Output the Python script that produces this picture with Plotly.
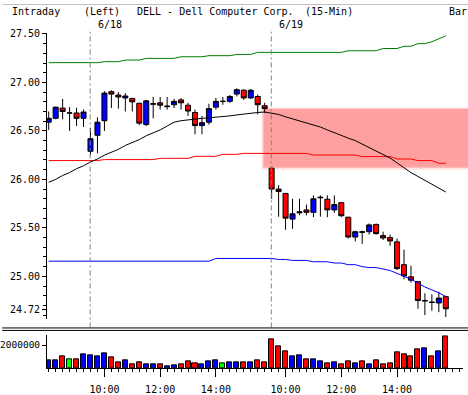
import plotly.graph_objects as go

# ---------------- data ----------------
SESSIONS = [("6/17", 20, 26), ("6/18", 0, 26), ("6/19", 0, 26)]  # (day, first slot, last slot+1) of 15-min slots from 9:30
TIMES = []
for day, s0, s1 in SESSIONS:
    for k in range(s0, s1):
        mins = 9 * 60 + 30 + 15 * k
        TIMES.append(f"{day} {mins // 60:02d}:{mins % 60:02d}")

OPEN = [26.59, 26.63, 26.735, 26.685, 26.685, 26.63, 26.29, 26.455, 26.605, 26.905,
        26.87, 26.84, 26.835, 26.785, 26.565, 26.775, 26.79, 26.75, 26.77, 26.82,
        26.765, 26.69, 26.555, 26.59, 26.745, 26.805, 26.805, 26.88, 26.92, 26.84,
        26.855, 26.76, 26.115, 25.90, 25.855, 25.59, 25.655, 25.685, 25.66, 25.81,
        25.795, 25.685, 25.76, 25.61, 25.405, 25.46, 25.46, 25.535, 25.42, 25.40,
        25.355, 25.12, 24.995, 24.945, 24.745, 24.735, 24.725, 24.79]
HIGH = [26.70, 26.75, 26.83, 26.745, 26.74, 26.72, 26.53, 26.64, 26.91, 26.92,
        26.90, 26.89, 26.84, 26.79, 26.82, 26.85, 26.85, 26.85, 26.83, 26.84,
        26.79, 26.72, 26.655, 26.78, 26.84, 26.85, 26.87, 26.94, 26.93, 26.93,
        26.875, 26.79, 26.13, 25.94, 25.86, 25.80, 25.80, 25.74, 25.835, 25.835,
        25.835, 25.835, 25.76, 25.61, 25.47, 25.47, 25.545, 25.545, 25.46, 25.43,
        25.39, 25.275, 25.11, 24.95, 24.825, 24.815, 24.84, 24.80]
LOW = [26.51, 26.62, 26.62, 26.50, 26.55, 26.54, 26.25, 26.27, 26.50, 26.735,
       26.73, 26.70, 26.70, 26.56, 26.55, 26.63, 26.72, 26.72, 26.735, 26.72,
       26.655, 26.465, 26.465, 26.565, 26.72, 26.77, 26.79, 26.855, 26.82, 26.83,
       26.67, 26.685, 25.80, 25.615, 25.48, 25.49, 25.63, 25.63, 25.61, 25.615,
       25.61, 25.655, 25.61, 25.39, 25.36, 25.335, 25.43, 25.43, 25.375, 25.315,
       25.065, 24.97, 24.935, 24.665, 24.60, 24.645, 24.63, 24.58]
CLOSE = [26.63, 26.745, 26.70, 26.685, 26.63, 26.695, 26.42, 26.59, 26.89, 26.88,
         26.85, 26.86, 26.80, 26.58, 26.81, 26.78, 26.765, 26.755, 26.805, 26.79,
         26.705, 26.555, 26.585, 26.73, 26.805, 26.805, 26.855, 26.925, 26.84, 26.92,
         26.77, 26.73, 25.90, 25.875, 25.60, 25.645, 25.665, 25.66, 25.80, 25.815,
         25.685, 25.74, 25.625, 25.405, 25.46, 25.455, 25.53, 25.44, 25.395, 25.365,
         25.08, 25.005, 24.96, 24.75, 24.75, 24.73, 24.775, 24.665]
VOLUME = [710000, 630000, 1060000, 770000, 770000, 1230000, 1140000, 1060000, 1310000, 940000,
          510000, 690000, 340000, 510000, 340000, 340000, 340000, 170000, 260000, 340000,
          600000, 430000, 340000, 600000, 690000, 430000, 510000, 510000, 510000, 510000,
          690000, 510000, 2490000, 1890000, 1460000, 1060000, 1140000, 770000, 770000, 600000,
          430000, 510000, 340000, 600000, 430000, 600000, 340000, 690000, 340000, 430000,
          1370000, 1200000, 1060000, 1630000, 1710000, 1060000, 1460000, 2740000]
TREND = [25.97, 26.00, 26.04, 26.07, 26.11, 26.14, 26.18, 26.21, 26.25, 26.28,
         26.31, 26.35, 26.38, 26.41, 26.45, 26.48, 26.51, 26.55, 26.59, 26.605,
         26.615, 26.62, 26.63, 26.635, 26.64, 26.65, 26.655, 26.665, 26.675, 26.68,
         26.69, 26.695, 26.685, 26.67, 26.645, 26.625, 26.605, 26.58, 26.56, 26.54,
         26.51, 26.48, 26.455, 26.425, 26.40, 26.365, 26.33, 26.295, 26.26, 26.22,
         26.17, 26.12, 26.07, 26.03, 25.99, 25.95, 25.91, 25.87]
UPPER = [27.204] * 8 + [27.214] * 3 + [27.231] * 3 + [27.248] * 5 + [27.265] * 4 + \
        [27.276] * 4 + [27.289] * 3 + [27.31] * 13 + [27.327] * 5 + [27.35] * 3 + \
        [27.373] * 2 + [27.40] * 2 + [27.42, 27.45, 27.48]
MIDDLE = [26.194] * 8 + [26.204] * 8 + [26.217] * 5 + [26.238] * 4 + [26.258] * 3 + \
         [26.268] * 10 + [26.251] * 7 + [26.235] * 5 + [26.21] * 3 + [26.194] * 3 + \
         [26.166] * 2
LOWER = [25.156] * 24 + [25.184] * 9 + [25.174] * 2 + [25.164] * 3 + [25.15] * 3 + \
        [25.137] * 2 + [25.12] * 2 + [25.10, 25.09, 25.09, 25.075, 25.06, 25.03, 25.00,
                                     24.97, 24.93, 24.89, 24.86, 24.83, 24.79]

PRICE_TICK_VALUES = [24.66, 25.0, 25.5, 26.0, 26.5, 27.0, 27.5]
PRICE_TICK_LABELS = ["24.72", "25.00", "25.50", "26.00", "26.50", "27.00", "27.50"]
VOL_TICK_VALUES = [2000000]
VOL_TICK_LABELS = ["2000000"]
TIME_TICK_LABELS = ["10:00", "12:00", "14:00"]
DAY_LABELS = ["6/18", "6/19"]
FORECAST_ZONE = (26.13, 26.725)  # price band of the shaded projection box

# ---------------- layout helpers ----------------
X = list(range(len(TIMES)))
W, H = 468, 395
ML, MB = 45, 27
PLOT_W, PLOT_H = W - ML, H - MB
PX_PER_BAR = 7.0
XMIN = -1.7 / PX_PER_BAR
XMAX = XMIN + PLOT_W / PX_PER_BAR


def py(ypx):  # pixel row -> paper fraction
    return (PLOT_H - ypx) / PLOT_H


def px(xpx):  # pixel column -> paper fraction
    return (xpx - ML) / PLOT_W


PRICE_TOP_PX, PRICE_BOT_PX = 29, 318
PRICE_AT_30 = 27.5
PX_PER_UNIT = 98.0
p_top = PRICE_AT_30 - (PRICE_TOP_PX - 30.3) / PX_PER_UNIT
p_bot = PRICE_AT_30 - (PRICE_BOT_PX - 30.3) / PX_PER_UNIT

day_start = [TIMES.index(f"{d} 09:30") for d in DAY_LABELS]
xtick_vals, xtick_text = [], []
for d in DAY_LABELS:
    for t in TIME_TICK_LABELS:
        xtick_vals.append(TIMES.index(f"{d} {t}"))
        xtick_text.append(t)

vol_colors = ["#0000ff" if c > o else ("#ff0000" if c < o else "#00ff00")
              for o, c in zip(OPEN, CLOSE)]

FONT = "DejaVu Sans Mono"

fig = go.Figure()

fig.add_trace(go.Scatter(x=X, y=UPPER, mode="lines", line=dict(color="#008000", width=1),
                         xaxis="x", yaxis="y", hoverinfo="skip"))
fig.add_trace(go.Scatter(x=X, y=MIDDLE, mode="lines", line=dict(color="#ff0000", width=1),
                         xaxis="x", yaxis="y", hoverinfo="skip"))
fig.add_trace(go.Scatter(x=X, y=LOWER, mode="lines", line=dict(color="#0000ff", width=1),
                         xaxis="x", yaxis="y", hoverinfo="skip"))
fig.add_trace(go.Scatter(x=X, y=TREND, mode="lines", line=dict(color="#000000", width=1),
                         xaxis="x", yaxis="y", hoverinfo="skip"))
fig.add_trace(go.Candlestick(
    x=X, open=OPEN, high=HIGH, low=LOW, close=CLOSE,
    increasing=dict(fillcolor="#0000ff", line=dict(color="#000000", width=1)),
    decreasing=dict(fillcolor="#ff0000", line=dict(color="#000000", width=1)),
    whiskerwidth=0, xaxis="x", yaxis="y"))
fig.add_trace(go.Bar(x=X, y=VOLUME, marker=dict(color=vol_colors, line=dict(color="#000000", width=1)),
                     width=0.72, xaxis="x2", yaxis="y2"))

shapes = []
# soft-edged projection box
shapes.append(dict(type="rect", xref="x", yref="y", x0=30.55, x1=XMAX + 1,
                   y0=FORECAST_ZONE[0] - 0.03, y1=FORECAST_ZONE[1] + 0.015,
                   fillcolor="rgba(255,120,120,0.22)", line=dict(width=0), layer="below"))
shapes.append(dict(type="rect", xref="x", yref="y", x0=30.75, x1=XMAX + 1,
                   y0=FORECAST_ZONE[0] - 0.012, y1=FORECAST_ZONE[1] + 0.005,
                   fillcolor="rgba(255,110,110,0.35)", line=dict(width=0), layer="below"))
shapes.append(dict(type="rect", xref="x", yref="y", x0=30.9, x1=XMAX + 1,
                   y0=FORECAST_ZONE[0], y1=FORECAST_ZONE[1],
                   fillcolor="rgb(255,160,160)", line=dict(width=0), layer="below"))
for ds in day_start:
    shapes.append(dict(type="line", xref="x", yref="paper", x0=ds - 0.05, x1=ds - 0.05,
                       y0=py(327), y1=py(28), line=dict(color="#808080", width=1, dash="5px,3px,2px,3px")))
for yy in (327.5, 330.0):
    shapes.append(dict(type="line", xref="paper", yref="paper", x0=px(0), x1=px(W),
                       y0=py(yy), y1=py(yy), line=dict(color="#000000", width=1)))
shapes.append(dict(type="line", xref="paper", yref="paper", x0=px(0), x1=px(W),
                   y0=py(0.5), y1=py(0.5), line=dict(color="#c0c0c0", width=1)))

ann = []
tfont = dict(family=FONT, size=10, color="#000000")
for txt, x0 in [("Intraday", 8), ("(Left)", 80), ("DELL - Dell Computer Corp.", 133),
                ("(15-Min)", 302), ("Bar", 447)]:
    ann.append(dict(text=txt, xref="paper", yref="paper", x=px(x0), y=py(7.5),
                    xanchor="left", yanchor="middle", showarrow=False, font=tfont))
for d, ds in zip(DAY_LABELS, day_start):
    ann.append(dict(text=d, xref="x", yref="paper", x=ds + 0.8, y=py(20.5),
                    xanchor="left", yanchor="middle", showarrow=False, font=tfont))

fig.update_layout(
    width=W, height=H, margin=dict(l=ML, r=0, t=0, b=MB),
    paper_bgcolor="#ffffff", plot_bgcolor="#ffffff", showlegend=False,
    boxgap=0.15, boxgroupgap=0.15, bargap=0,
    shapes=shapes, annotations=ann,
    xaxis=dict(domain=[0, 1], range=[XMIN, XMAX], anchor="y", showticklabels=False,
               showline=False, ticks="", showgrid=False, zeroline=False,
               rangeslider=dict(visible=False), fixedrange=True),
    yaxis=dict(domain=[py(PRICE_BOT_PX), py(PRICE_TOP_PX)], range=[p_bot, p_top], anchor="x",
               tickmode="array", tickvals=PRICE_TICK_VALUES, ticktext=PRICE_TICK_LABELS,
               ticks="outside", ticklen=4, tickcolor="#000000", tickwidth=1,
               minor=dict(dtick=0.1, tick0=0, ticks="outside", ticklen=3, tickcolor="#000000"),
               showline=True, linecolor="#000000", linewidth=1, showgrid=False, zeroline=False,
               tickfont=dict(family=FONT, size=10, color="#000000")),
    xaxis2=dict(domain=[0, (PLOT_W - 5) / PLOT_W], range=[XMIN, XMIN + (PLOT_W - 5) / PX_PER_BAR],
                anchor="y2", tickmode="array", tickvals=xtick_vals, ticktext=xtick_text,
                ticks="outside", ticklen=8, tickcolor="#000000", ticklabelstandoff=4,
                minor=dict(dtick=1, tick0=0, ticks="outside", ticklen=3, tickcolor="#000000"),
                showline=True, linecolor="#000000", linewidth=1, showgrid=False, zeroline=False,
                tickfont=dict(family=FONT, size=10, color="#000000")),
    yaxis2=dict(domain=[0, py(335)], range=[0, (368.3 - 335) / 23.3 * 2000000], anchor="x2",
                tickmode="array", tickvals=VOL_TICK_VALUES, ticktext=VOL_TICK_LABELS,
                ticks="outside", ticklen=4, tickcolor="#000000",
                showline=True, linecolor="#000000", linewidth=1, showgrid=False, zeroline=False,
                tickfont=dict(family=FONT, size=9.5, color="#000000")),
)

fig.write_html("out.html", config={"displayModeBar": False})
with open("out.html", encoding="utf-8") as fh:
    html = fh.read()
html = html.replace("<head>", "<head><style>html,body{margin:0;padding:0;overflow:hidden;}</style>", 1)
with open("out.html", "w", encoding="utf-8") as fh:
    fh.write(html)
